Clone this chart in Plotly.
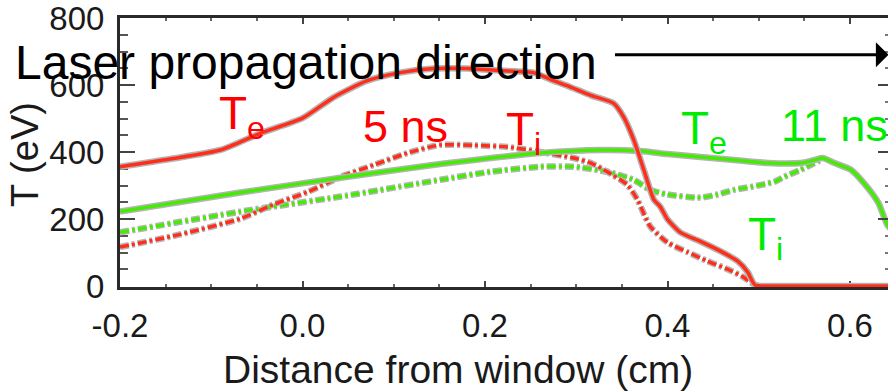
import plotly.graph_objects as go

# ---------------- data ----------------
x_te_5ns = [-0.2, -0.145, -0.09, -0.046, 0.0, 0.034, 0.071, 0.107, 0.144, 0.181, 0.217, 0.253,
            0.275, 0.290, 0.316, 0.341, 0.352, 0.363, 0.374, 0.385, 0.392, 0.400, 0.414, 0.436,
            0.458, 0.477, 0.488, 0.496, 0.52, 0.60, 0.66]
t_te_5ns = [356, 379, 406, 456, 501, 563, 613, 637, 649, 649, 643, 637,
            613, 598, 569, 545, 504, 436, 347, 258, 237, 199, 160, 133,
            104, 74, 41, 3, 0, 0, 0]

x_ti_5ns = [-0.2, -0.134, -0.068, -0.032, 0.006, 0.042, 0.078, 0.115, 0.151, 0.187, 0.225, 0.261,
            0.297, 0.316, 0.334, 0.356, 0.367, 0.381, 0.400, 0.422, 0.444, 0.466, 0.483, 0.494, 0.50]
t_ti_5ns = [116, 154, 201, 243, 281, 326, 361, 397, 421, 420, 415, 400,
            382, 367, 341, 302, 258, 178, 130, 101, 74, 50, 27, 6, 0]

x_te_11ns = [-0.2, -0.068, 0.042, 0.151, 0.261, 0.327, 0.370, 0.400, 0.436, 0.473, 0.510, 0.546,
             0.561, 0.570, 0.583, 0.601, 0.615, 0.631, 0.642, 0.66]
t_te_11ns = [222, 279, 323, 364, 397, 406, 403, 394, 385, 376, 367, 367,
             376, 382, 367, 347, 308, 249, 178, 140]

x_ti_11ns = [-0.2, -0.068, 0.042, 0.151, 0.206, 0.261, 0.297, 0.334, 0.363, 0.381, 0.400, 0.436,
             0.455, 0.473, 0.492, 0.517, 0.528, 0.546, 0.561, 0.570]
t_ti_11ns = [160, 222, 267, 317, 341, 356, 356, 341, 317, 287, 273, 264,
             273, 287, 296, 311, 326, 347, 367, 379]

x_ticks = [-0.2, 0.0, 0.2, 0.4, 0.6]
x_ticklabels = ["-0.2", "0.0", "0.2", "0.4", "0.6"]
y_ticks = [0, 200, 400, 600, 800]
y_ticklabels = ["0", "200", "400", "600", "800"]

# ---------------- styles ----------------
RED_LINE = "rgb(255,45,25)"
GREEN_LINE = "rgb(70,235,5)"
RED_TXT = "rgb(255,0,0)"
GREEN_TXT = "rgb(0,235,0)"
HALO = "rgb(180,180,180)"
DASHDOT = "9px,3px,3px,3px"
TICKFONT = "Liberation Sans, Arial, sans-serif"
TXTFONT = "Liberation Sans, Arial, sans-serif"

XR = [-0.2, -0.2 + 768 / 912.5]
YR = [-3, 800]

fig = go.Figure()


def add_curve(x, y, color, dash):
    fig.add_trace(go.Scatter(x=x, y=y, mode="lines", hoverinfo="skip", showlegend=False,
                             line=dict(color=HALO, width=6.5, dash=dash, shape="spline", smoothing=0.6)))
    fig.add_trace(go.Scatter(x=x, y=y, mode="lines", hoverinfo="skip", showlegend=False,
                             line=dict(color=color, width=3.5, dash=dash, shape="spline", smoothing=0.6)))


add_curve(x_ti_11ns, t_ti_11ns, GREEN_LINE, DASHDOT)
add_curve(x_ti_5ns, t_ti_5ns, RED_LINE, DASHDOT)
add_curve(x_te_11ns, t_te_11ns, GREEN_LINE, "solid")
add_curve(x_te_5ns, t_te_5ns, RED_LINE, "solid")

# dummy trace so that the right-hand tick axis is drawn
fig.add_trace(go.Scatter(x=[XR[0]], y=[-1000], yaxis="y2", mode="markers", hoverinfo="skip",
                         showlegend=False, marker=dict(opacity=0)))

fig.update_layout(
    width=888, height=391,
    margin=dict(l=120, r=0, t=16, b=104),
    paper_bgcolor="white", plot_bgcolor="white",
    xaxis=dict(range=XR, tickvals=x_ticks, ticktext=x_ticklabels,
               showgrid=False, zeroline=False,
               showline=True, linecolor="#2a2a2a", linewidth=3, mirror="ticks",
               ticks="inside", ticklen=6, tickwidth=2, tickcolor="#444",
               minor=dict(dtick=0.05, ticks="inside", ticklen=3, tickwidth=2, tickcolor="#666"),
               tickfont=dict(family=TICKFONT, size=33, color="#1a1a1a"),
               ticklabelstandoff=7, ticklabeloverflow="allow", layer="below traces"),
    yaxis=dict(range=YR, tickvals=y_ticks, ticktext=y_ticklabels,
               showgrid=False, zeroline=False,
               showline=True, linecolor="#2a2a2a", linewidth=3, mirror=False,
               ticks="inside", ticklen=15, tickwidth=2, tickcolor="#444",
               minor=dict(dtick=50, ticks="inside", ticklen=8, tickwidth=2, tickcolor="#555"),
               tickfont=dict(family=TICKFONT, size=33, color="#1a1a1a"),
               ticklabelstandoff=6, ticklabeloverflow="allow", layer="below traces"),
    yaxis2=dict(range=YR, overlaying="y", side="right", showgrid=False, zeroline=False,
                showline=False, showticklabels=False, tickvals=y_ticks,
                ticks="inside", ticklen=10, tickwidth=2, tickcolor="#444",
                minor=dict(dtick=50, ticks="inside", ticklen=3, tickwidth=2, tickcolor="#777")),
)


def px_x(px):
    return -0.2 + (px - 119.5) / 912.5


def py_y(py):
    return (287 - py) * 800 / 270


annots = [
    dict(text="T<sub>e</sub>", x=px_x(216), y=py_y(116), xanchor="left", yanchor="middle",
         font=dict(family=TXTFONT, size=46, color=RED_TXT)),
    dict(text="5 ns", x=px_x(360), y=py_y(126), xanchor="left", yanchor="middle",
         font=dict(family=TXTFONT, size=45, color=RED_TXT)),
    dict(text="T<sub>i</sub>", x=px_x(503), y=py_y(132), xanchor="left", yanchor="middle",
         font=dict(family=TXTFONT, size=46, color=RED_TXT)),
    dict(text="T<sub>e</sub>", x=px_x(678), y=py_y(131), xanchor="left", yanchor="middle",
         font=dict(family=TXTFONT, size=46, color=GREEN_TXT)),
    dict(text="11 ns", x=px_x(778), y=py_y(125), xanchor="left", yanchor="middle",
         font=dict(family=TXTFONT, size=45, color=GREEN_TXT)),
    dict(text="T<sub>i</sub>", x=px_x(745), y=py_y(238), xanchor="left", yanchor="middle",
         font=dict(family=TXTFONT, size=46, color=GREEN_TXT)),
]
for a in annots:
    fig.add_annotation(showarrow=False, xref="x", yref="y", **a)

# title text across the top
fig.add_annotation(text="Laser propagation direction", x=(13 - 120) / 768, y=(287 - 61) / 271,
                   xref="paper", yref="paper", xanchor="left", yanchor="middle", showarrow=False,
                   font=dict(family=TXTFONT, size=48, color="black"))

# arrow
fig.add_annotation(x=px_x(888), y=py_y(54), ax=px_x(613), ay=py_y(54), xref="x", yref="y",
                   axref="x", ayref="y", text="", showarrow=True, arrowhead=1, arrowsize=1.4,
                   arrowwidth=3, arrowcolor="black", standoff=0, startstandoff=0)

# axis titles
fig.add_annotation(text="Distance from window (cm)", x=px_x(457), y=(287 - 370) / 271,
                   xref="x", yref="paper", showarrow=False, xanchor="center", yanchor="middle",
                   font=dict(family=TXTFONT, size=39, color="#1a1a1a"))
fig.add_annotation(text="T (eV)", x=(25 - 120) / 768, y=(287 - 154) / 271, xref="paper", yref="paper",
                   showarrow=False, textangle=-90, xanchor="center", yanchor="middle",
                   font=dict(family=TXTFONT, size=38, color="#1a1a1a"))

fig.write_html("out.html")
